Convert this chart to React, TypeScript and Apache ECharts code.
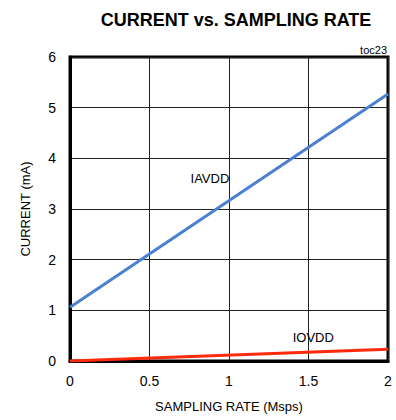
import React, { useEffect, useRef } from "react";
import * as echarts from "echarts";

const samplingRate = [0, 2];
const iavdd = [1.06, 5.27];
const iovdd = [0, 0.23];
const xTicks = [0, 0.5, 1, 1.5, 2];
const yTicks = [0, 1, 2, 3, 4, 5, 6];

export default function App() {
  const ref = useRef<HTMLDivElement>(null);
  useEffect(() => {
    if (!ref.current) return;
    const chart = echarts.init(ref.current, null, { renderer: "svg" });
    const font = "Liberation Sans, Arial, sans-serif";
    chart.setOption({
      animation: false,
      backgroundColor: "#ffffff",
      title: {
        text: "CURRENT vs. SAMPLING RATE",
        left: 231,
        textAlign: "center",
        top: 6,
        textStyle: { fontFamily: font, fontSize: 18, fontWeight: "bold", color: "#000" },
      },
      graphic: [
        {
          type: "text",
          right: 9,
          top: 44,
          style: { text: "toc23", fontFamily: font, fontSize: 11, fill: "#000" },
        },
      ],
      grid: {
        left: 70,
        right: 8,
        top: 57,
        bottom: 59,
        show: true,
        borderColor: "#000",
        borderWidth: 3,
        containLabel: false,
      },
      xAxis: {
        type: "value",
        min: xTicks[0],
        max: xTicks[xTicks.length - 1],
        interval: 0.5,
        name: "SAMPLING RATE (Msps)",
        nameLocation: "middle",
        nameGap: 39,
        nameTextStyle: { fontFamily: font, fontSize: 13, color: "#000" },
        axisLine: { show: true, lineStyle: { color: "#000", width: 3 } },
        axisTick: { show: false },
        axisLabel: { fontFamily: font, fontSize: 14, color: "#000", margin: 13 },
        splitLine: { show: true, lineStyle: { color: "#222", width: 1 } },
      },
      yAxis: {
        type: "value",
        min: yTicks[0],
        max: yTicks[yTicks.length - 1],
        interval: 1,
        name: "CURRENT (mA)",
        nameLocation: "middle",
        nameGap: 38,
        nameTextStyle: { fontFamily: font, fontSize: 13, color: "#000" },
        axisLine: { show: true, lineStyle: { color: "#000", width: 3 } },
        axisTick: { show: false },
        axisLabel: { fontFamily: font, fontSize: 14, color: "#000", margin: 14 },
        splitLine: { show: true, lineStyle: { color: "#222", width: 1 } },
      },
      series: [
        {
          name: "IAVDD",
          type: "line",
          data: samplingRate.map((x, i) => [x, iavdd[i]]),
          showSymbol: false,
          lineStyle: { color: "#4a7fd2", width: 3 },
          markPoint: {
            symbol: "circle",
            symbolSize: 0,
            data: [{ coord: [0.88, 3.61], value: "IAVDD" }],
            label: {
              show: true,
              formatter: "IAVDD",
              fontFamily: font,
              fontSize: 13,
              color: "#000",
              position: "inside",
            },
          },
        },
        {
          name: "IOVDD",
          type: "line",
          data: samplingRate.map((x, i) => [x, iovdd[i]]),
          showSymbol: false,
          lineStyle: { color: "#ff2a0a", width: 3 },
          markPoint: {
            symbol: "circle",
            symbolSize: 0,
            data: [{ coord: [1.53, 0.47], value: "IOVDD" }],
            label: {
              show: true,
              formatter: "IOVDD",
              fontFamily: font,
              fontSize: 13,
              color: "#000",
              position: "inside",
            },
          },
        },
      ],
    });
    return () => chart.dispose();
  }, []);
  return <div ref={ref} style={{ width: 396, height: 420, position: "absolute", left: 0, top: 0 }} />;
}
